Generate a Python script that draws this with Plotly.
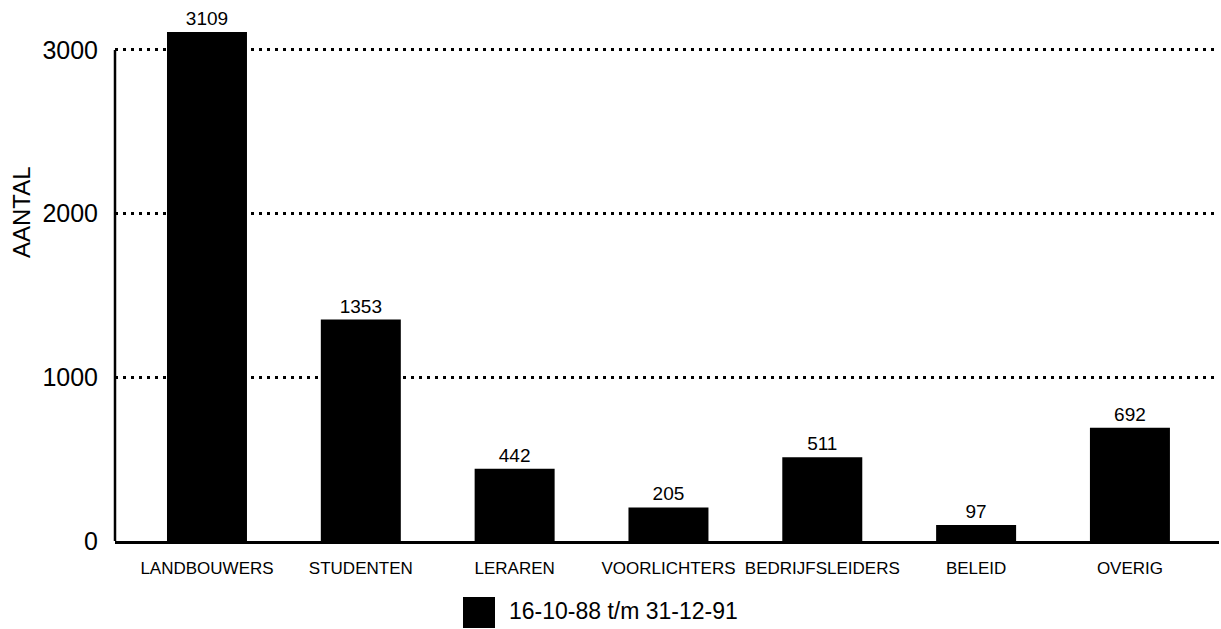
import plotly.graph_objects as go

categories = ["LANDBOUWERS", "STUDENTEN", "LERAREN", "VOORLICHTERS",
              "BEDRIJFSLEIDERS", "BELEID", "OVERIG"]
values = [3109, 1353, 442, 205, 511, 97, 692]
series_name = "16-10-88 t/m 31-12-91"
y_ticks = [0, 1000, 2000, 3000]
y_title = "AANTAL"

FONT = "Liberation Sans"

fig = go.Figure()
fig.add_trace(go.Bar(
    x=categories, y=values, name=series_name,
    marker=dict(color="black", line=dict(width=0)),
    width=0.52,
    text=[str(v) for v in values], textposition="outside",
    textfont=dict(family=FONT, size=19, color="black"),
    cliponaxis=False, showlegend=False,
))

fig.update_layout(
    width=1221, height=629,
    margin=dict(l=115, r=2, t=9, b=88, autoexpand=False),
    paper_bgcolor="white", plot_bgcolor="white",
    font=dict(family=FONT, color="black"),
    xaxis=dict(
        range=[-0.598, 6.579], showgrid=False,
        showline=True, linecolor="black", linewidth=2.5,
        ticks="", tickfont=dict(family=FONT, size=17, color="black"),
        ticklabelstandoff=10,
    ),
    yaxis=dict(
        range=[0, 3250], tickvals=y_ticks,
        tickfont=dict(family=FONT, size=25, color="black"),
        showline=False, zeroline=False,
        showgrid=True, gridcolor="black", gridwidth=2.5, griddash="3px,5px",
        ticks="", ticklabelstandoff=16,
    ),
    bargap=0.48,
)

# y-axis line only up to the top tick
fig.add_shape(type="line", xref="paper", yref="y", x0=0, x1=0, y0=0, y1=max(y_ticks),
              line=dict(color="black", width=2.5))

# y-axis title
fig.add_annotation(text=y_title, xref="paper", yref="paper",
                   x=(22 - 115) / 1104, y=(541 - 212) / 532,
                   xanchor="center", yanchor="middle",
                   textangle=-90, showarrow=False,
                   font=dict(family=FONT, size=24, color="black"))

# manual legend
fig.add_shape(type="rect", xref="paper", yref="paper",
              x0=(463 - 115) / 1104, x1=(495 - 115) / 1104,
              y0=(541 - 628) / 532, y1=(541 - 597) / 532,
              fillcolor="black", line=dict(width=0))
fig.add_annotation(text=series_name, xref="paper", yref="paper",
                   x=(508 - 115) / 1104, y=(541 - 611) / 532,
                   xanchor="left", yanchor="middle", showarrow=False,
                   borderpad=0,
                   font=dict(family=FONT, size=23, color="black"))

fig.write_html("out.html", config={"displayModeBar": False},
               post_script="document.body.style.margin='0';")
